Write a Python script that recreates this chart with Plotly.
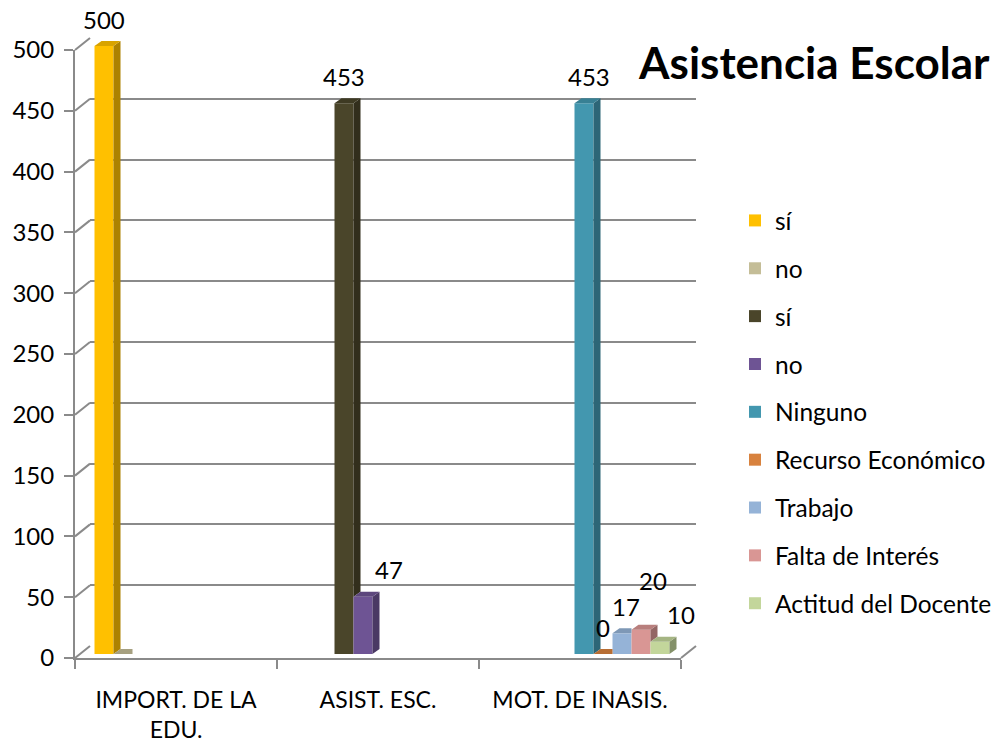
import plotly.graph_objects as go

# ---------------- data ----------------
categories = ["IMPORT. DE LA<br>EDU.", "ASIST. ESC.", "MOT. DE INASIS."]
series_names = ["sí", "no", "sí", "no", "Ninguno", "Recurso Económico",
                "Trabajo", "Falta de Interés", "Actitud del Docente"]
s_si_import = [500, None, None]
s_no_import = [0, None, None]
s_si_asist = [None, 453, None]
s_no_asist = [None, 47, None]
s_ninguno = [None, None, 453]
s_recurso = [None, None, 0]
s_trabajo = [None, None, 17]
s_falta = [None, None, 20]
s_actitud = [None, None, 10]
series_values = [s_si_import, s_no_import, s_si_asist, s_no_asist, s_ninguno,
                 s_recurso, s_trabajo, s_falta, s_actitud]
y_ticks = list(range(0, 501, 50))

# ---------------- style ----------------
colors = ["#FFC000", "#C4BD97", "#4A452A", "#6E5494", "#4397AF",
          "#D8823E", "#95B3D7", "#D99694", "#C3D69B"]
show_label = [True, False, True, True, True, True, True, True, True]
label_shift = [(0, 0), (0, 0), (0, 0), (26, 0), (5, 0), (0, 0), (4, 0), (12, 22), (21, 0)]
FONT = "Lato, 'Noto Sans', sans-serif"
GRID = "#8A8A8A"

W, H = 995, 746
FX0, FX1 = 75, 681          # front plane x (px)
FY0, FY500 = 658, 50        # front plane y of 0 and 500 (px)
BACK_DX, BACK_DY = 15, -12  # back wall offset
MID_DX, MID_DY = 4, -4      # bar plane offset
K = (FY0 - FY500) / 500.0   # px per unit
CATW = (FX1 - FX0) / 3.0
DEPTH_X, DEPTH_Y = 7, 5     # bar depth px


def px(x):
    return x / W


def py(y):
    return (H - y) / H


def shade(hexc, f):
    h = hexc.lstrip("#")
    r, g, b = (int(h[i:i + 2], 16) for i in (0, 2, 4))
    return "rgb(%d,%d,%d)" % (r * f, g * f, b * f)


n = len(series_names)
slot = 19 / CATW
bargap = 1 - n * slot
dx = DEPTH_X / CATW
dy = DEPTH_Y / K
Y3MAX = 525

fig = go.Figure()

# dummy traces so that the back (grid) and front (axes) subplots exist
fig.add_trace(go.Scatter(x=[None], y=[None], xaxis="x", yaxis="y",
                         showlegend=False, hoverinfo="skip"))
fig.add_trace(go.Scatter(x=categories, y=[None] * 3, xaxis="x2", yaxis="y2",
                         showlegend=False, hoverinfo="skip"))

# bars (front faces)
cat_pos = list(range(len(categories)))
for i, (name, vals) in enumerate(zip(series_names, series_values)):
    fig.add_trace(go.Bar(x=cat_pos, y=vals, name=name, marker_color=colors[i],
                         marker_line_width=0, xaxis="x3", yaxis="y3",
                         legendgroup="g%d" % i))

# 3D side & top faces
for c in cat_pos:
    for i, vals in enumerate(series_values):
        v = vals[c]
        if v is None:
            continue
        xc = c + (i - (n - 1) / 2) * slot
        xl, xr = xc - slot / 2, xc + slot / 2
        vn = series_values[i + 1][c] if i + 1 < n else None
        vn = 0 if vn is None else vn
        if v > vn:
            fig.add_trace(go.Scatter(
                x=[xr, xr + dx, xr + dx, xr, xr], y=[vn, vn + dy, v + dy, v, vn],
                fill="toself", fillcolor=shade(colors[i], 0.68), mode="lines",
                line=dict(width=0, color=shade(colors[i], 0.68)),
                xaxis="x3", yaxis="y3", showlegend=False, hoverinfo="skip"))
            tx = [xl, xl + dx, xr + dx, xr, xl]
        else:
            tx = [xl, xl + dx, xr, xr, xl]
        fig.add_trace(go.Scatter(
            x=tx, y=[v, v + dy, v + dy, v, v],
            fill="toself", fillcolor=shade(colors[i], 0.85), mode="lines",
            line=dict(width=0, color=shade(colors[i], 0.85)),
            xaxis="x3", yaxis="y3", showlegend=False, hoverinfo="skip"))
        if show_label[i]:
            sx, sy = label_shift[i]
            fig.add_annotation(x=xc, y=v, xref="x3", yref="y3", text=str(v),
                               showarrow=False, yanchor="middle",
                               xshift=sx, yshift=27 + sy,
                               font=dict(family=FONT, size=24, color="black"))

# wall / floor diagonals
shapes = []
for t in y_ticks:
    yf = FY0 - t * K
    shapes.append(dict(type="line", xref="paper", yref="paper",
                       x0=px(FX0), y0=py(yf), x1=px(FX0 + BACK_DX), y1=py(yf + BACK_DY),
                       line=dict(color=GRID, width=2)))
shapes.append(dict(type="line", xref="paper", yref="paper",
                   x0=px(FX1), y0=py(FY0), x1=px(FX1 + BACK_DX), y1=py(FY0 + BACK_DY),
                   line=dict(color=GRID, width=2)))

fig.add_annotation(text="<b>Asistencia Escolar</b>", xref="paper", yref="paper",
                   x=px(814), y=py(62), xanchor="center", yanchor="middle",
                   showarrow=False, font=dict(family=FONT, size=44, color="black"))

fig.update_layout(
    width=W, height=H, margin=dict(l=0, r=0, t=0, b=0, autoexpand=False),
    paper_bgcolor="white", plot_bgcolor="rgba(0,0,0,0)",
    barmode="group", bargap=bargap, bargroupgap=0,
    font=dict(family=FONT, color="black"),
    shapes=shapes,
    showlegend=True,
    legend=dict(x=px(735), y=py(198), xanchor="left", yanchor="top",
                font=dict(family=FONT, size=24.5, color="black"),
                tracegroupgap=13, bgcolor="rgba(0,0,0,0)"),
    xaxis=dict(domain=[px(FX0 + BACK_DX), px(FX1 + BACK_DX)], range=[0, 1],
               anchor="y", showgrid=False, zeroline=False, showticklabels=False,
               showline=False, ticks="", automargin=False),
    yaxis=dict(domain=[py(FY0 + BACK_DY), py(FY500 + BACK_DY)], range=[0, 500],
               anchor="x", tickvals=y_ticks, showgrid=True, gridcolor=GRID,
               gridwidth=2, zeroline=False, showticklabels=False, ticks="",
               automargin=False),
    xaxis2=dict(domain=[px(FX0), px(FX1)], anchor="y2", type="category",
                categoryorder="array", categoryarray=categories, range=[-0.5, 2.5],
                showgrid=False, zeroline=False, showline=True, linecolor=GRID,
                linewidth=2, ticks="outside", tickson="boundaries", ticklen=9,
                tickwidth=2, tickcolor=GRID, ticklabelstandoff=20, automargin=False,
                tickfont=dict(family=FONT, size=23, color="black")),
    yaxis2=dict(domain=[py(FY0), py(FY500)], anchor="x2", range=[0, 500],
                tickvals=y_ticks, showgrid=False, zeroline=False, showline=True,
                linecolor=GRID, linewidth=2, ticks="outside", ticklen=9,
                tickwidth=2, tickcolor=GRID, ticklabelstandoff=5, automargin=False,
                tickfont=dict(family=FONT, size=24, color="black")),
    xaxis3=dict(domain=[px(FX0 + MID_DX), px(FX1 + MID_DX)], anchor="y3",
                range=[-0.5, 2.5], visible=False, automargin=False),
    yaxis3=dict(domain=[py(FY0 + MID_DY), py(FY0 + MID_DY - Y3MAX * K)], anchor="x3",
                range=[0, Y3MAX], visible=False, automargin=False),
)

fig.write_html("out.html", config={"displayModeBar": False},
               post_script="document.body.style.margin='0';")
